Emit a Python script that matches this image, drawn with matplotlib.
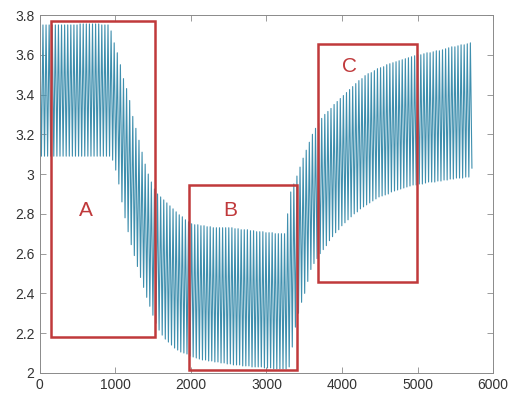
import numpy as np
import matplotlib.pyplot as plt
from matplotlib.patches import Rectangle

# 充放电电压曲线：每个周期的峰值和谷值
period = 41  # 每个周期的时间长度

peaks = [
    3.75, 3.75, 3.75, 3.75, 3.75, 3.75, 3.75, 3.75, 3.75, 3.75,
    3.75, 3.75, 3.75, 3.755, 3.755, 3.755, 3.755, 3.755, 3.755, 3.755,
    3.75, 3.75, 3.75, 3.72, 3.66, 3.61, 3.55, 3.48, 3.43, 3.37,
    3.29, 3.23, 3.17, 3.11, 3.05, 3.00, 2.96, 2.925, 2.90, 2.885,
    2.87, 2.855, 2.84, 2.825, 2.81, 2.795, 2.785, 2.77, 2.76, 2.75,
    2.745, 2.745, 2.74, 2.74, 2.735, 2.735, 2.73, 2.73, 2.73, 2.73,
    2.73, 2.73, 2.73, 2.725, 2.725, 2.72, 2.72, 2.72, 2.715, 2.715,
    2.71, 2.71, 2.71, 2.705, 2.705, 2.705, 2.70, 2.70, 2.70, 2.70,
    2.80, 2.91, 2.95, 2.99, 3.035, 3.08, 3.12, 3.16, 3.20, 3.23,
    3.255, 3.28, 3.30, 3.315, 3.33, 3.35, 3.365, 3.38, 3.395, 3.41,
    3.425, 3.44, 3.455, 3.47, 3.48, 3.495, 3.505, 3.51, 3.52, 3.53,
    3.535, 3.54, 3.55, 3.555, 3.56, 3.565, 3.57, 3.575, 3.58, 3.585,
    3.59, 3.595, 3.60, 3.60, 3.605, 3.61, 3.61, 3.615, 3.62, 3.62,
    3.625, 3.63, 3.635, 3.64, 3.64, 3.645, 3.65, 3.65, 3.655, 3.66,
]

troughs = [
    3.09, 3.09, 3.09, 3.09, 3.09, 3.09, 3.09, 3.09, 3.09, 3.09,
    3.09, 3.09, 3.09, 3.09, 3.09, 3.09, 3.09, 3.09, 3.09, 3.09,
    3.09, 3.09, 3.09, 3.07, 3.02, 2.95, 2.86, 2.78, 2.71, 2.645,
    2.59, 2.535, 2.48, 2.43, 2.38, 2.335, 2.29, 2.25, 2.215, 2.19,
    2.17, 2.155, 2.14, 2.125, 2.115, 2.105, 2.10, 2.095, 2.085, 2.08,
    2.075, 2.07, 2.065, 2.065, 2.06, 2.06, 2.055, 2.055, 2.05, 2.05,
    2.045, 2.045, 2.04, 2.04, 2.04, 2.035, 2.035, 2.035, 2.03, 2.03,
    2.03, 2.03, 2.025, 2.025, 2.025, 2.02, 2.02, 2.02, 2.02, 2.02,
    2.03, 2.13, 2.23, 2.30, 2.355, 2.40, 2.46, 2.52, 2.55, 2.575,
    2.60, 2.62, 2.64, 2.665, 2.685, 2.705, 2.72, 2.74, 2.755, 2.77,
    2.785, 2.80, 2.81, 2.825, 2.835, 2.845, 2.855, 2.865, 2.875, 2.885,
    2.89, 2.895, 2.90, 2.91, 2.915, 2.92, 2.925, 2.93, 2.935, 2.94,
    2.945, 2.945, 2.95, 2.95, 2.955, 2.96, 2.96, 2.96, 2.965, 2.965,
    2.97, 2.97, 2.975, 2.975, 2.98, 2.98, 2.98, 2.985, 2.985, 3.03,
]

# 红色方框 A、B、C
box_labels = ['A', 'B', 'C']
box_x0 = [150, 1980, 3680]
box_x1 = [1530, 3400, 4990]
box_y0 = [2.18, 2.012, 2.455]
box_y1 = [3.77, 2.945, 3.655]
label_x = [610, 2525, 4095]
label_y = [2.815, 2.815, 3.54]

plt.rcParams['font.family'] = ['Liberation Sans', 'DejaVu Sans']

n = len(peaks)
t_peak = np.arange(n) * period
x = np.empty(2 * n)
y = np.empty(2 * n)
x[0::2] = t_peak
x[1::2] = t_peak + period / 2
y[0::2] = peaks
y[1::2] = troughs

fig = plt.figure(figsize=(5.11, 3.95), dpi=100)
ax = fig.add_axes([0.078, 0.056, 0.887, 0.906])

ax.plot(x, y, color='#3f8fae', linewidth=0.8)

red = '#c0393b'
for lab, x0, x1, y0, y1, lx, ly in zip(box_labels, box_x0, box_x1, box_y0, box_y1, label_x, label_y):
    ax.add_patch(Rectangle((x0, y0), x1 - x0, y1 - y0, fill=False,
                           edgecolor=red, linewidth=1.8, zorder=3, clip_on=False))
    ax.text(lx, ly, lab, color=red, fontsize=15, ha='center', va='center')

ax.set_xlim(0, 6000)
ax.set_ylim(2, 3.8)
ax.set_xticks(range(0, 7000, 1000))
ax.set_yticks([2, 2.2, 2.4, 2.6, 2.8, 3, 3.2, 3.4, 3.6, 3.8])
ax.set_yticklabels(['2', '2.2', '2.4', '2.6', '2.8', '3', '3.2', '3.4', '3.6', '3.8'])

for s in ax.spines.values():
    s.set_color('#8a8a8a')
    s.set_linewidth(0.7)
ax.tick_params(direction='in', top=True, right=True, length=4, width=0.6,
               color='#8a8a8a', labelcolor='#333333', labelsize=10, pad=4)

plt.savefig('out.png', dpi=100)
